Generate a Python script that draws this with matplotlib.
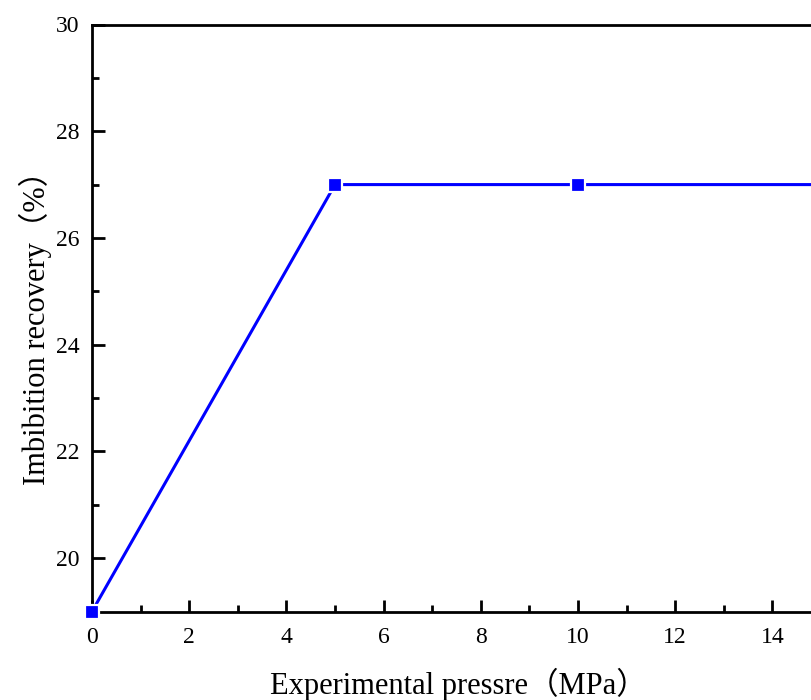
import matplotlib
matplotlib.use("Agg")
import matplotlib.pyplot as plt
from matplotlib.ticker import MultipleLocator

pressure = [0, 5, 10, 15]
recovery = [19, 27, 27, 27]
xticks = [0, 2, 4, 6, 8, 10, 12, 14]
yticks = [20, 22, 24, 26, 28, 30]

W, H = 811, 700
fig = plt.figure(figsize=(W / 100, H / 100), dpi=100)
x0, xmax = 92, 16
pxu = 48.6
y_top, y_bot = 24.5, 611.5
ax = fig.add_axes([x0 / W, 1 - y_bot / H, xmax * pxu / W, (y_bot - y_top) / H])

ax.plot(pressure, recovery, color="#0000ff", lw=2.2, marker="s", ms=9.5,
        mec="white", mfc="#0000ff", mew=1.6, clip_on=False, zorder=5)
ax.set_xlim(0, xmax)
ax.set_ylim(19.0, 30)
ax.set_xticks(xticks)
ax.set_yticks(yticks)
ax.xaxis.set_minor_locator(MultipleLocator(1))
ax.yaxis.set_minor_locator(MultipleLocator(1))
ax.tick_params(which="both", direction="in", width=2, labelsize=17)
ax.tick_params(axis="x", pad=11)
ax.tick_params(axis="y", pad=9)
ax.tick_params(which="major", length=9)
ax.tick_params(which="minor", length=5)
for lab in ax.get_xticklabels() + ax.get_yticklabels():
    lab.set_fontfamily("Liberation Serif")
for s in ax.spines.values():
    s.set_linewidth(2)

fam = ["Liberation Serif", "Noto Sans CJK SC"]
ax.set_xlabel("Experimental pressre（MPa）", fontsize=22, family=fam)
ax.set_ylabel("Imbibition recovery（%）", fontsize=22, family=fam)
axw = xmax * pxu
ax.xaxis.set_label_coords((458 - x0) / axw, -(684 - y_bot) / (y_bot - y_top), transform=ax.transAxes)
ax.yaxis.set_label_coords(-(x0 - 35) / axw, (y_bot - 320) / (y_bot - y_top), transform=ax.transAxes)
ax.xaxis.label.set_va("center")
ax.yaxis.label.set_va("center")

fig.savefig("out.png", dpi=100)
